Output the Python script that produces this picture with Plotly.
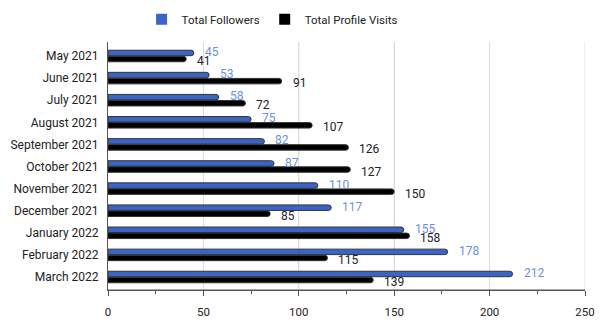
import plotly.graph_objects as go

months = ["May 2021", "June 2021", "July 2021", "August 2021", "September 2021",
          "October 2021", "November 2021", "December 2021", "January 2022",
          "February 2022", "March 2022"]
followers = [45, 53, 58, 75, 82, 87, 110, 117, 155, 178, 212]
visits = [41, 91, 72, 107, 126, 127, 150, 85, 158, 115, 139]
x_ticks = [0, 50, 100, 150, 200, 250]
x_minor = [25, 75, 125, 175, 225]

BLUE = "#3a64c6"
BLUE_TXT = "#6b8fdb"
FONT = "Roboto"
GRID = "#dddddd"
AXIS = "#555555"

fig = go.Figure()
fig.add_trace(go.Bar(
    y=months, x=followers, orientation="h", name="Total Followers", showlegend=False,
    marker=dict(color=BLUE, line=dict(color="#333333", width=1), cornerradius=3),
))
fig.add_trace(go.Bar(
    y=months, x=visits, orientation="h", name="Total Profile Visits", showlegend=False,
    marker=dict(color="#000000", line=dict(color="#333333", width=1), cornerradius=3),
))
# legend entries with square swatches, on a hidden helper subplot (point off-range)
fig.add_trace(go.Scatter(x=[-10], y=[-10], mode="markers", name="Total Followers",
                         xaxis="x2", yaxis="y2", hoverinfo="skip",
                         marker=dict(symbol="square", size=11, color=BLUE)))
fig.add_trace(go.Scatter(x=[-10], y=[-10], mode="markers", name="Total Profile Visits",
                         xaxis="x2", yaxis="y2", hoverinfo="skip",
                         marker=dict(symbol="square", size=11, color="#000000")))

for m, v in zip(months, followers):
    fig.add_annotation(x=v, y=m, text=str(v), showarrow=False, xanchor="left",
                       xshift=9, yshift=4, font=dict(family=FONT, size=12, color=BLUE_TXT))
for m, v in zip(months, visits):
    fig.add_annotation(x=v, y=m, text=str(v), showarrow=False, xanchor="left",
                       xshift=9, yshift=-5, font=dict(family=FONT, size=12, color="#222222"))

# vertical gridlines at the major tick values (axis decoration), plus baseline
for t in x_ticks[1:]:
    fig.add_shape(type="line", xref="x", yref="paper", x0=t, x1=t, y0=0, y1=1,
                  line=dict(color=GRID, width=1), layer="below")
fig.add_shape(type="line", xref="paper", yref="paper", x0=0, x1=1, y0=0, y1=0,
              line=dict(color=AXIS, width=1), layer="above")

fig.update_layout(
    width=600, height=320,
    margin=dict(l=108, r=15, t=42, b=30, autoexpand=False),
    paper_bgcolor="white", plot_bgcolor="white",
    font=dict(family=FONT, size=12, color="#222222"),
    barmode="group", bargap=0.45, bargroupgap=0.1,
    showlegend=True,
    legend=dict(orientation="h", x=0.344, xanchor="center",
                yref="container", y=0.94, yanchor="middle",
                font=dict(family=FONT, size=11.5, color="#222222"),
                itemwidth=30, traceorder="normal"),
    xaxis=dict(range=[0, 250], tickvals=x_ticks,
               showgrid=True, gridcolor=GRID, gridwidth=1,
               showline=True, linecolor=AXIS, linewidth=1,
               ticks="outside", ticklen=5, tickcolor=AXIS,
               ticklabelstandoff=6,
               minor=dict(tickvals=x_minor, ticks="outside",
                          ticklen=3, tickcolor=AXIS, showgrid=False),
               zeroline=False, tickfont=dict(size=11.5)),
    yaxis=dict(autorange="reversed", showline=True, linecolor=AXIS, linewidth=1,
               ticks="", showgrid=False, ticklabelstandoff=6,
               tickfont=dict(size=12)),
    xaxis2=dict(visible=False, range=[0, 1], anchor="y2", overlaying="x"),
    yaxis2=dict(visible=False, range=[0, 1], anchor="x2", overlaying="y"),
)

fig.write_html("out.html")
